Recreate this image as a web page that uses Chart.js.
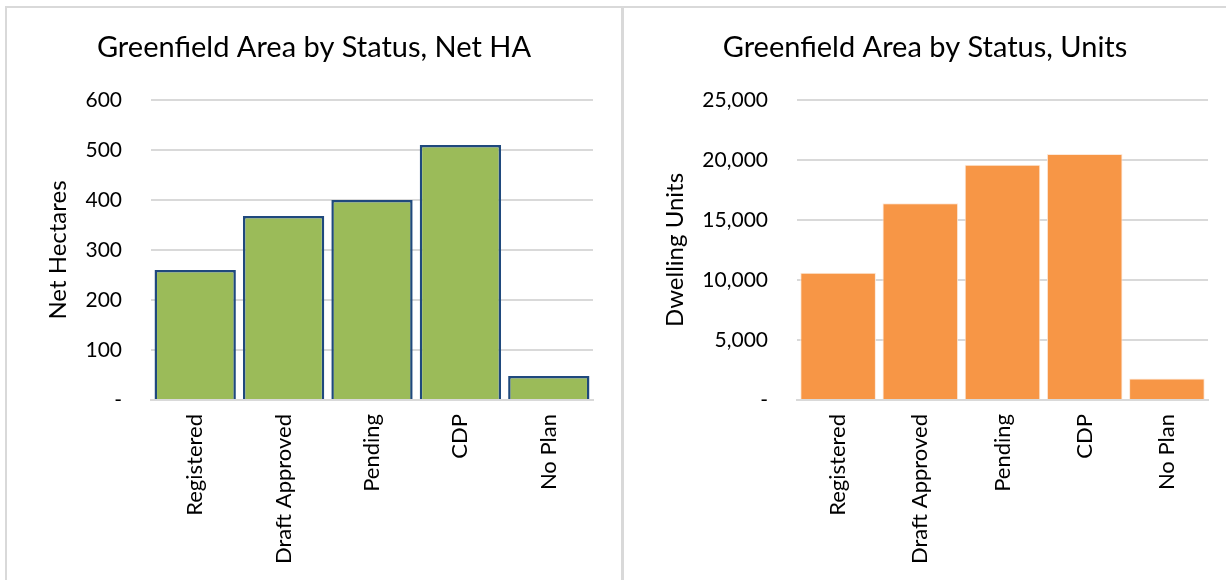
<!DOCTYPE html>
<html>
<head>
<meta charset="utf-8">
<script src="https://cdn.jsdelivr.net/npm/chart.js@4"></script>
<style>
  html, body { margin: 0; padding: 0; background: #ffffff; width: 1226px; height: 580px; overflow: hidden; }
  .frame { position: absolute; top: 6px; left: 5px; width: 1221px; height: 574px; border-top: 2px solid #d9d9d9; border-left: 2px solid #d9d9d9; box-sizing: border-box; }
  .sep { position: absolute; top: 8px; left: 621px; width: 3px; height: 572px; background: #d9d9d9; }
  canvas { position: absolute; }
</style>
</head>
<body>
<div class="frame"></div>
<div class="sep"></div>
<div style="position:absolute;left:7px;top:8px;width:614px;height:572px;"><canvas id="c1"></canvas></div>
<div style="position:absolute;left:624px;top:8px;width:602px;height:572px;"><canvas id="c2"></canvas></div>
<script>
const categories = ['Registered', 'Draft Approved', 'Pending', 'CDP', 'No Plan'];
const netHectares = [260, 368, 400, 510, 48];
const dwellingUnits = [10600, 16400, 19600, 20500, 1800];
const haTickMax = 600;
const haTickStep = 100;
const unitsTickMax = 25000;
const unitsTickStep = 5000;

const FONT = 'Lato, "Open Sans", sans-serif';

function fmt(v) {
  return v === 0 ? '-' : Number(v).toLocaleString('en-US');
}

function makeChart(id, cfg) {
  const el = document.getElementById(id);
  return new Chart(el, {
    type: 'bar',
    data: {
      labels: categories,
      datasets: [{
        data: cfg.values,
        backgroundColor: cfg.fill,
        borderColor: cfg.border,
        borderWidth: cfg.borderWidth,
        barPercentage: cfg.barPct,
        categoryPercentage: 1.0
      }]
    },
    options: {
      responsive: true,
      maintainAspectRatio: false,
      animation: false,
      devicePixelRatio: 1,
      layout: { padding: 0 },
      plugins: {
        legend: { display: false },
        tooltip: { enabled: false },
        title: {
          display: true,
          text: cfg.title,
          color: '#000000',
          font: { family: FONT, size: 29, weight: 'normal', lineHeight: 1.2 },
          padding: { top: 22, bottom: 35.2 }
        }
      },
      scales: {
        x: {
          grid: { display: false, drawTicks: false },
          border: { display: true, color: '#d9d9d9', width: 2 },
          ticks: {
            color: '#000000',
            font: { family: FONT, size: 22 },
            minRotation: 90,
            maxRotation: 90,
            autoSkip: false,
            padding: 14
          },
          afterFit: (s) => { s.height = 180; }
        },
        y: {
          min: 0,
          max: cfg.max,
          ticks: {
            stepSize: cfg.step,
            color: '#000000',
            font: { family: FONT, size: 21 },
            padding: 29,
            callback: (v) => fmt(v)
          },
          grid: { color: '#d9d9d9', lineWidth: 2, drawTicks: false },
          border: { display: false },
          title: {
            display: true,
            text: cfg.yTitle,
            color: '#000000',
            font: { family: FONT, size: 24, lineHeight: 1.2 },
            padding: { top: cfg.yTitlePad, bottom: 0 }
          },
          afterFit: (s) => { s.width = cfg.yWidth; }
        },
        rightSpace: {
          type: 'linear',
          position: 'right',
          display: true,
          ticks: { display: false },
          grid: { display: false, drawTicks: false },
          border: { display: false },
          afterFit: (s) => { s.width = cfg.padRight; }
        }
      }
    }
  });
}

makeChart('c1', {
  values: netHectares,
  title: 'Greenfield Area by Status, Net HA',
  yTitle: 'Net Hectares',
  max: haTickMax,
  step: haTickStep,
  fill: '#9BBB59',
  border: '#1F497D',
  borderWidth: 2.5,
  barPct: 0.92,
  padRight: 28,
  yWidth: 144,
  yTitlePad: 36.6
});

makeChart('c2', {
  values: dwellingUnits,
  title: 'Greenfield Area by Status, Units',
  yTitle: 'Dwelling Units',
  max: unitsTickMax,
  step: unitsTickStep,
  fill: '#F79646',
  border: '#FDE9D9',
  borderWidth: 1,
  barPct: 0.92,
  padRight: 18,
  yWidth: 173,
  yTitlePad: 36.6
});
</script>
</body>
</html>
